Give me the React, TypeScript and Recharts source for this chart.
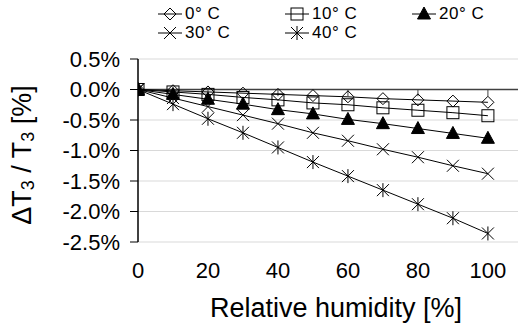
import type { FC, ReactNode } from 'react'
import {
    LineChart,
    Line,
    XAxis,
    YAxis,
    CartesianGrid,
    ReferenceLine
} from 'recharts'

const FONT = '"Liberation Sans", Arial, Helvetica, sans-serif'

const humidity = [0, 10, 20, 30, 40, 50, 60, 70, 80, 90, 100]
const temp0 = [0, -0.02, -0.04, -0.06, -0.08, -0.1, -0.12, -0.15, -0.17, -0.19, -0.21]
const temp10 = [0, -0.04, -0.08, -0.13, -0.17, -0.22, -0.25, -0.3, -0.34, -0.38, -0.43]
const temp20 = [0, -0.08, -0.16, -0.24, -0.33, -0.4, -0.49, -0.56, -0.64, -0.72, -0.8]
const temp30 = [0, -0.14, -0.28, -0.42, -0.56, -0.71, -0.84, -0.98, -1.11, -1.25, -1.38]
const temp40 = [0, -0.24, -0.48, -0.71, -0.95, -1.19, -1.42, -1.65, -1.88, -2.11, -2.36]

const seriesKeys = ['t0', 't10', 't20', 't30', 't40']
const seriesNames = ['0° C', '10° C', '20° C', '30° C', '40° C']
const seriesMarkers = ['diamond', 'square', 'triangle', 'cross', 'star']

const xTicks = [0, 20, 40, 60, 80, 100]
const yTicks = [0.5, 0, -0.5, -1, -1.5, -2, -2.5]

const chartData = humidity.map((h, i) => ({
    h,
    t0: temp0[i],
    t10: temp10[i],
    t20: temp20[i],
    t30: temp30[i],
    t40: temp40[i]
}))

const Marker: FC<{ shape: string; cx: number; cy: number }> = ({
    shape,
    cx,
    cy
}): ReactNode => {
    const s = 6
    if (shape === 'diamond')
        return (
            <path
                d={`M${cx},${cy - s}L${cx + s},${cy}L${cx},${cy + s}L${cx - s},${cy}Z`}
                fill='none'
                stroke='#000'
                strokeWidth={1}
            />
        )
    if (shape === 'square')
        return (
            <rect
                x={cx - s}
                y={cy - s}
                width={s * 2}
                height={s * 2}
                fill='none'
                stroke='#000'
                strokeWidth={1}
            />
        )
    if (shape === 'triangle')
        return (
            <path
                d={`M${cx},${cy - 7}L${cx + 6.5},${cy + 5}L${cx - 6.5},${cy + 5}Z`}
                fill='#000'
                stroke='#000'
            />
        )
    const cross = (
        <path
            d={`M${cx - s},${cy - s}L${cx + s},${cy + s}M${cx + s},${cy - s}L${cx - s},${cy + s}`}
            stroke='#000'
            strokeWidth={1}
        />
    )
    if (shape === 'cross') return cross
    return (
        <g>
            {cross}
            <path
                d={`M${cx},${cy - 7}L${cx},${cy + 7}`}
                stroke='#000'
                strokeWidth={1}
            />
        </g>
    )
}

const renderDot = (shape: string) => (props: any) => (
    <Marker
        key={`${shape}-${props.index}`}
        shape={shape}
        cx={props.cx}
        cy={props.cy}
    />
)

const LegendIcon: FC<{ shape: string }> = ({ shape }): ReactNode => (
    <svg width={24} height={16} style={{ display: 'block' }}>
        <line x1={0} y1={8} x2={24} y2={8} stroke='#000' strokeWidth={1} />
        <Marker shape={shape} cx={12} cy={8} />
    </svg>
)

const legendCols = [158, 285, 412]

const ChartLegend: FC = (): ReactNode => (
    <div style={{ position: 'absolute', left: 0, top: 0, width: 518, height: 50 }}>
        {seriesNames.map((name, i) => (
            <div
                key={name}
                style={{
                    position: 'absolute',
                    left: legendCols[i % 3],
                    top: i < 3 ? 5 : 24,
                    height: 17,
                    display: 'flex',
                    alignItems: 'center',
                    fontFamily: FONT,
                    fontSize: 17,
                    lineHeight: '17px',
                    color: '#000',
                    whiteSpace: 'nowrap'
                }}
            >
                <LegendIcon shape={seriesMarkers[i]} />
                <span
                    style={{
                        marginLeft: 3,
                        display: 'inline-block',
                        height: 17,
                        letterSpacing: 0.5
                    }}
                >
                    {name}
                </span>
            </div>
        ))}
    </div>
)

const YTitle: FC = (): ReactNode => (
    <text
        x={22}
        y={155}
        transform='rotate(-90, 22, 155)'
        textAnchor='middle'
        dominantBaseline='central'
        fontFamily={FONT}
        fontSize={27}
        fill='#000'
    >
        ΔT
        <tspan dy={6} fontSize={18}>
            3
        </tspan>
        <tspan dy={-6}> / T</tspan>
        <tspan dy={6} fontSize={18}>
            3
        </tspan>
        <tspan dy={-6}> [%]</tspan>
    </text>
)

const XTitle: FC = (): ReactNode => (
    <text
        x={336}
        y={308}
        textAnchor='middle'
        dominantBaseline='central'
        fontFamily={FONT}
        fontSize={27}
        fill='#000'
    >
        Relative humidity [%]
    </text>
)

const App: FC = (): ReactNode => {
    return (
        <div style={{ position: 'absolute', left: 0, top: 0, width: 518, height: 333 }}>
            <LineChart
                width={518}
                height={333}
                data={chartData}
                margin={{ top: 59, right: 0, bottom: 0, left: 0 }}
            >
                <CartesianGrid
                    vertical={false}
                    stroke='#d9d9d9'
                    strokeWidth={1}
                />
                <XAxis
                    dataKey='h'
                    type='number'
                    domain={[0, 108.6]}
                    ticks={xTicks}
                    interval={0}
                    allowDataOverflow
                    height={91}
                    axisLine={false}
                    tickLine={false}
                    tickSize={0}
                    tickMargin={20}
                    tick={{ fontSize: 22, fill: '#000', fontFamily: FONT }}
                    label={<XTitle />}
                />
                <YAxis
                    type='number'
                    domain={[-2.5, 0.5]}
                    ticks={yTicks}
                    interval={0}
                    width={138}
                    axisLine={{ stroke: '#000', strokeWidth: 1.5 }}
                    tickLine={{ stroke: '#000', strokeWidth: 1 }}
                    tickSize={8}
                    tickMargin={10}
                    tickFormatter={(v: number) => `${v.toFixed(1)}%`}
                    tick={{ fontSize: 22, fill: '#000', fontFamily: FONT }}
                    label={<YTitle />}
                />
                <ReferenceLine y={0} stroke='#404040' strokeWidth={1.5} />
                {xTicks
                    .filter((t) => t > 0)
                    .map((t) => (
                        <ReferenceLine
                            key={`tick-${t}`}
                            segment={[
                                { x: t, y: 0 },
                                { x: t, y: -0.11 }
                            ]}
                            stroke='#404040'
                            strokeWidth={1}
                        />
                    ))}
                {seriesKeys.map((key, i) => (
                    <Line
                        key={key}
                        type='linear'
                        dataKey={key}
                        name={seriesNames[i]}
                        stroke='#000'
                        strokeWidth={1}
                        dot={renderDot(seriesMarkers[i])}
                        activeDot={false}
                        isAnimationActive={false}
                    />
                ))}
            </LineChart>
            <ChartLegend />
        </div>
    )
}

export default App
